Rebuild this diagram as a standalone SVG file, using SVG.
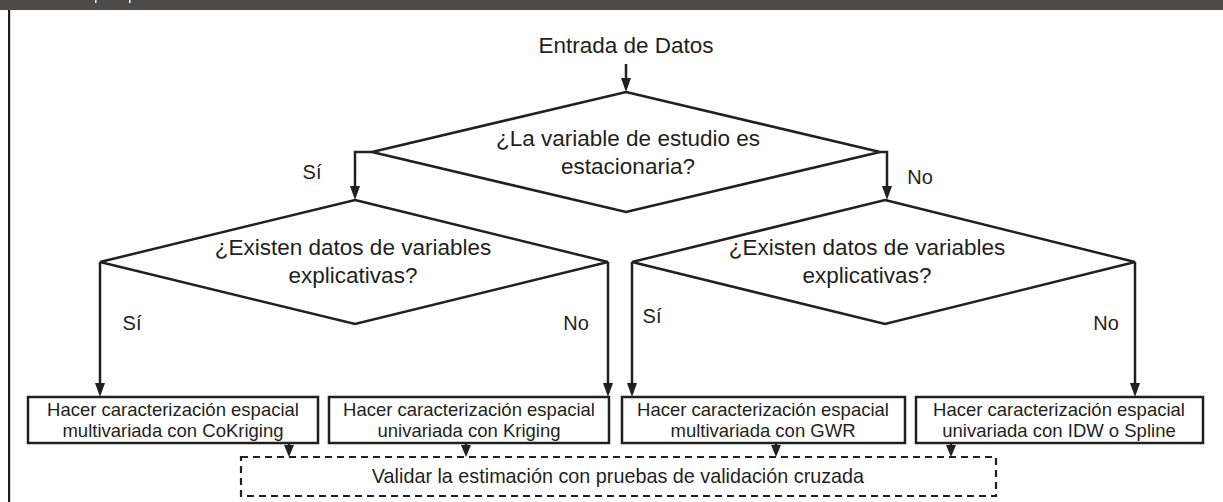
<svg xmlns="http://www.w3.org/2000/svg" width="1223" height="502" viewBox="0 0 1223 502">
<style>
.ln{fill:none;stroke:#231f20;stroke-width:2.5}
.ah{fill:#231f20}
.sh{fill:#fff;stroke:#231f20;stroke-width:2.5}
.dash{fill:#fff;stroke:#231f20;stroke-width:2.2;stroke-dasharray:7,5}
.t{font-family:"Liberation Sans",Arial,sans-serif;font-size:22.5px;fill:#231f20;text-anchor:middle}
.b{font-family:"Liberation Sans",Arial,sans-serif;font-size:18.5px;fill:#231f20;text-anchor:middle}
.v{font-family:"Liberation Sans",Arial,sans-serif;font-size:19.8px;fill:#231f20;text-anchor:middle}
.l{font-family:"Liberation Sans",Arial,sans-serif;font-size:20px;fill:#231f20;text-anchor:middle}
</style>
<rect x="0" y="0" width="1223" height="502" fill="#fff"/>
<rect x="0" y="0" width="1223" height="10" fill="#504a47"/>
<rect x="95" y="0" width="1.5" height="3" fill="#fff"/>
<rect x="129" y="0" width="1.5" height="3" fill="#fff"/>
<rect x="8" y="10" width="2.2" height="492" fill="#231f20"/>

<g id="connectors">
<path class="ln" d="M626,64 V78"/>
<path class="ah" d="M621,78 L631,78 L626,92 Z"/>
<path class="ln" d="M372,152 H355 V186"/>
<path class="ah" d="M350,186 L360,186 L355,200 Z"/>
<path class="ln" d="M880,152 H887 V186"/>
<path class="ah" d="M882,186 L892,186 L887,200 Z"/>
<path class="ln" d="M100,262 V383"/>
<path class="ah" d="M95,383 L105,383 L100,397 Z"/>
<path class="ln" d="M608,262 V383"/>
<path class="ah" d="M603,383 L613,383 L608,397 Z"/>
<path class="ln" d="M632,262 V383"/>
<path class="ah" d="M627,383 L637,383 L632,397 Z"/>
<path class="ln" d="M1135,262 V383"/>
<path class="ah" d="M1130,383 L1140,383 L1135,397 Z"/>
<path class="ln" d="M289,443 V446"/>
<path class="ah" d="M284,445 L294,445 L289,457 Z"/>
<path class="ln" d="M466,443 V446"/>
<path class="ah" d="M461,445 L471,445 L466,457 Z"/>
<path class="ln" d="M776,443 V446"/>
<path class="ah" d="M771,445 L781,445 L776,457 Z"/>
<path class="ln" d="M951,443 V446"/>
<path class="ah" d="M946,445 L956,445 L951,457 Z"/>
<text class="l" x="312" y="179">Sí</text>
<text class="l" x="920" y="184">No</text>
<text class="l" x="132" y="330">Sí</text>
<text class="l" x="576" y="330">No</text>
<text class="l" x="652" y="323">Sí</text>
<text class="l" x="1106" y="330">No</text>
</g>

<g id="start">
<text class="t" x="626" y="53">Entrada de Datos</text>
</g>

<g id="d1">
<polygon class="sh" points="626,92 880,152 626,212 372,152"/>
<text class="t" x="628" y="146">¿La variable de estudio es</text>
<text class="t" x="628" y="174">estacionaria?</text>
</g>

<g id="d2">
<polygon class="sh" points="355,200 608,262 355,324 100,262"/>
<text class="t" x="353" y="255">¿Existen datos de variables</text>
<text class="t" x="353" y="283">explicativas?</text>
</g>

<g id="d3">
<polygon class="sh" points="885,200 1135,262 885,324 632,262"/>
<text class="t" x="867" y="255">¿Existen datos de variables</text>
<text class="t" x="867" y="283">explicativas?</text>
</g>

<g id="b1">
<rect class="sh" x="28" y="397" width="290" height="46"/>
<text class="b" x="173" y="415.5">Hacer caracterización espacial</text>
<text class="b" x="173" y="437">multivariada con CoKriging</text>
</g>
<g id="b2">
<rect class="sh" x="329" y="397" width="280" height="46"/>
<text class="b" x="469" y="415.5">Hacer caracterización espacial</text>
<text class="b" x="469" y="437">univariada con Kriging</text>
</g>
<g id="b3">
<rect class="sh" x="622" y="397" width="283" height="46"/>
<text class="b" x="763" y="415.5">Hacer caracterización espacial</text>
<text class="b" x="763" y="437">multivariada con GWR</text>
</g>
<g id="b4">
<rect class="sh" x="916" y="397" width="287" height="46"/>
<text class="b" x="1059" y="415.5">Hacer caracterización espacial</text>
<text class="b" x="1059" y="437">univariada con IDW o Spline</text>
</g>
<g id="validar">
<rect class="dash" x="241" y="457" width="755" height="39"/>
<text class="v" x="618" y="483">Validar la estimación con pruebas de validación cruzada</text>
</g>
</svg>
